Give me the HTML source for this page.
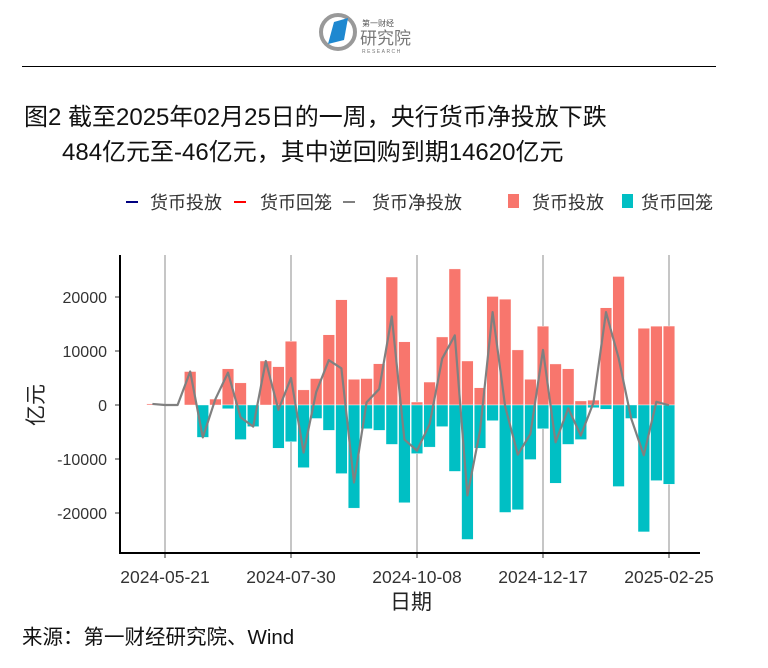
<!DOCTYPE html>
<html><head><meta charset="utf-8">
<style>
body{margin:0;background:#fff;width:768px;height:668px;overflow:hidden;font-family:"Liberation Sans","Noto Sans CJK SC",sans-serif;}
.abs{position:absolute;white-space:nowrap;}
</style></head>
<body>
<div style="position:relative;width:768px;height:668px;">
<svg class="abs" style="left:318px;top:12px" width="110" height="44">
 <circle cx="20" cy="20" r="17" fill="none" stroke="#999" stroke-width="4"/>
 <polygon points="10,32 16,10 30,6 26,28" fill="#1e88d0"/>
 <text x="44" y="14" font-size="8" fill="#555" font-family="Noto Sans CJK SC">第一财经</text>
 <text x="42" y="32" font-size="17" fill="#777" font-family="Noto Sans CJK SC">研究院</text>
 <text x="44" y="41" font-size="5" fill="#777" letter-spacing="1.5">RESEARCH</text>
</svg>
<div class="abs" style="left:22px;top:66px;width:694px;height:1px;background:#000"></div>
<div class="abs" style="left:24px;top:97px;font-size:24px;color:#111">图2 截至2025年02月25日的一周，央行货币净投放下跌</div>
<div class="abs" style="left:62px;top:132px;font-size:24px;color:#111">484亿元至-46亿元，其中逆回购到期14620亿元</div>
<svg class="abs" style="left:0;top:0" width="768" height="668" id="chart"></svg>
<div class="abs" style="left:22px;top:620px;font-size:20.5px;color:#111">来源：第一财经研究院、Wind</div>
</div>
<script>
const tickLabels=["2024-05-21","2024-07-30","2024-10-08","2024-12-17","2025-02-25"];
const tickIndex=[1,11,21,31,41];
const yTicks=[-20000,-10000,0,10000,20000];
const injection=[200,0,0,6200,0,1100,6700,4100,0,8150,7100,11800,2800,4900,13000,19500,4750,4900,7650,23700,11700,550,4250,12600,25200,8150,3200,20100,19600,10200,4750,14600,7600,6700,750,900,18000,23800,0,14200,14600,14620];
const withdrawal=[0,0,0,0,-6000,0,-700,-6400,-4000,0,-8000,-6800,-11600,-2500,-4700,-12700,-19100,-4400,-4700,-7300,-18100,-9000,-7800,-4000,-12300,-24900,-8000,-2900,-19900,-19400,-10100,-4400,-14500,-7300,-6400,-500,-800,-15100,-2500,-23500,-14000,-14666];
const ns="http://www.w3.org/2000/svg";
const svg=document.getElementById('chart');
const X0=120,X1=700,Y0=255,Y1=553;
const x=i=>152.4+12.6*i;
const y=v=>405-v*54/10000;
function mk(t,a,p){const e=document.createElementNS(ns,t);for(const k in a)e.setAttribute(k,a[k]);(p||svg).appendChild(e);return e;}
tickIndex.forEach((ti,k)=>{
 const g=mk('line',{x1:x(ti),x2:x(ti),y1:Y0,y2:Y1,stroke:'#b3b3b3','stroke-width':1.5});
 
 
 const tm=mk('line',{x1:x(ti),x2:x(ti),y1:Y1,y2:Y1+5,stroke:'#333','stroke-width':1});
 
 
 const t=mk('text',{x:x(ti),y:583,'text-anchor':'middle','font-size':17.5,fill:'#333'});
 t.textContent=tickLabels[k];
 
 
});
yTicks.forEach(v=>{
 const tm=mk('line',{x1:X0-5,x2:X0,y1:y(v),y2:y(v),stroke:'#333'});
 
 
 const t=mk('text',{x:107,y:y(v)+6,'text-anchor':'end','font-size':16,fill:'#333'});
 t.textContent=v;
 
 
});
injection.forEach((v,i)=>{
 if(v<=0)return;
 const r=mk('rect',{x:x(i)-5.8,y:y(v),width:11.6,height:y(0)-y(v),fill:'#F8766D',stroke:'#fff','stroke-width':0.4});
 
 
});
withdrawal.forEach((v,i)=>{
 if(v>=0)return;
 const r=mk('rect',{x:x(i)-5.8,y:y(0),width:11.6,height:y(v)-y(0),fill:'#00BFC4',stroke:'#fff','stroke-width':0.4});
 
 
});
const pts=injection.map((v,i)=>x(i)+','+y(v+withdrawal[i])).join(' ');
const pl=mk('polyline',{points:pts,fill:'none',stroke:'#808080','stroke-width':2.2,'stroke-linejoin':'round'});


const ax=mk('line',{x1:X0,x2:X0,y1:Y0,y2:Y1+1,stroke:'#000','stroke-width':2});


const bx=mk('line',{x1:X0-1,x2:X1,y1:Y1,y2:Y1,stroke:'#000','stroke-width':2});


const xt=mk('text',{x:411,y:609,'text-anchor':'middle','font-size':21,fill:'#222'});
xt.textContent='日期';


const yt=mk('text',{x:0,y:0,'text-anchor':'middle','font-size':21,fill:'#222',transform:'translate(43,405) rotate(-90)'});
yt.textContent='亿元';


const leg=[['line','#000080',126,150,'货币投放'],['line','#ff0000',234,260,'货币回笼'],['line','#808080',343,372,'货币净投放'],['rect','#F8766D',503,532,'货币投放'],['rect','#00BFC4',617,641,'货币回笼']];
leg.forEach(l=>{
 const g=mk('g',{});
 
 
 if(l[0]=='line')mk('line',{x1:l[2],x2:l[2]+12,y1:202,y2:202,stroke:l[1],'stroke-width':2},g);
 else mk('rect',{x:l[2]+5,y:194,width:11,height:14,fill:l[1]},g);
 const t=mk('text',{x:l[3],y:209,'font-size':18,fill:'#333'},g);
 t.textContent=l[4];
});
</script>
</body></html>
